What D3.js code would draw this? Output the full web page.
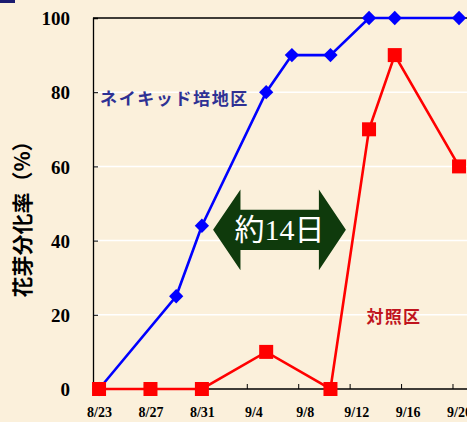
<!DOCTYPE html>
<html><head><meta charset="utf-8">
<script src="https://cdn.jsdelivr.net/npm/d3@7/dist/d3.min.js"></script>
<style>
html,body{margin:0;padding:0;background:#FBF0DB;}
svg{display:block;}
</style></head>
<body>
<svg id="chart" width="467" height="422"></svg>
<script>
// ---- data ----
const blueDates = ["2000-08-23","2000-08-29","2000-08-31","2000-09-05","2000-09-07","2000-09-10","2000-09-13","2000-09-15","2000-09-20"];
const blueValues = [0, 25, 44, 80, 90, 90, 100, 100, 100];
const redDates = ["2000-08-23","2000-08-27","2000-08-31","2000-09-05","2000-09-10","2000-09-13","2000-09-15","2000-09-20"];
const redValues = [0, 0, 0, 10, 0, 70, 90, 60];
const xTickLabels = ["8/23","8/27","8/31","9/4","9/8","9/12","9/16","9/20"];
const yTicks = [0, 20, 40, 60, 80, 100];
const blueName = "ネイキッド培地区";
const redName = "対照区";
const yTitle = "花芽分化率（%）";
const arrowText = "約14日";

(function(){
const parse = d3.timeParse("%Y-%m-%d");
const DAY = 864e5;
const svg = d3.select("#chart");
const W = 467, H = 422;

svg.append("rect").attr("width", W).attr("height", H).attr("fill", "#FBF0DB");
svg.append("rect").attr("x",0).attr("y",0).attr("width",15).attr("height",3).attr("fill","#1b1b70");

const start = parse("2000-08-23");
const x = d3.scaleTime()
  .domain([new Date(+start - 0.47*DAY), new Date(+start + 29*DAY)])
  .range([93, 93 + 29.47*12.857]);
const y = d3.scaleLinear().domain([0, 100]).range([389, 18]);

const pLeft = 93, pRight = W + 10, pTop = 18, pBottom = 389;

// gridlines
svg.append("g").selectAll("line").data(yTicks.filter(v => v > 0 && v < 100)).join("line")
  .attr("x1", pLeft).attr("x2", pRight).attr("y1", d => y(d)).attr("y2", d => y(d))
  .attr("stroke", "#ffffff").attr("stroke-width", 1.5);

// top border
svg.append("line").attr("x1", pLeft).attr("x2", pRight).attr("y1", pTop).attr("y2", pTop)
  .attr("stroke", "#000").attr("stroke-width", 1.3);

// y axis
const yAxis = d3.axisLeft(y).tickValues(yTicks).tickSize(-5).tickPadding(23).tickFormat(d3.format("d"));
const gy = svg.append("g").attr("transform", `translate(${pLeft},0)`).call(yAxis);
gy.select(".domain").attr("stroke", "#000").attr("stroke-width", 1.3);
gy.selectAll(".tick line").attr("stroke", "#000");
gy.selectAll("text").attr("font-family", "Liberation Serif, Times New Roman, serif")
  .attr("font-weight", "bold").attr("font-size", 19).attr("fill", "#000").attr("dy", "0.35em");

// x axis: labels at dates, ticks half a day earlier
const labelDates = xTickLabels.map((t, i) => new Date(+start + i*4*DAY));
const xAxis = d3.axisBottom(x).tickValues(labelDates).tickSize(0).tickPadding(18)
  .tickFormat((d, i) => xTickLabels[i]);
const gx = svg.append("g").attr("transform", `translate(0,${pBottom})`).call(xAxis);
gx.select(".domain").remove();
gx.selectAll("text").attr("font-family", "Liberation Serif, Times New Roman, serif")
  .attr("font-weight", "bold").attr("font-size", 14).attr("fill", "#000");
svg.append("line").attr("x1", pLeft).attr("x2", pRight).attr("y1", pBottom).attr("y2", pBottom)
  .attr("stroke", "#000").attr("stroke-width", 1.3);
svg.append("g").selectAll("line").data(labelDates.slice(1)).join("line")
  .attr("x1", d => x(new Date(+d - 0.47*DAY))).attr("x2", d => x(new Date(+d - 0.47*DAY)))
  .attr("y1", pBottom).attr("y2", pBottom - 5).attr("stroke", "#000").attr("stroke-width", 1);

// y title
svg.append("text").attr("transform", "translate(21,214) rotate(-90)")
  .attr("text-anchor", "middle").attr("dominant-baseline", "central")
  .attr("font-family", "Noto Sans CJK JP").attr("font-weight", "bold").attr("font-size", 21)
  .attr("fill", "#000").text(yTitle);

const line = d3.line().x(d => x(d[0])).y(d => y(d[1]));
const blue = blueDates.map((d, i) => [parse(d), blueValues[i]]);
const red = redDates.map((d, i) => [parse(d), redValues[i]]);

// blue series
svg.append("path").datum(blue).attr("d", line).attr("fill", "none")
  .attr("stroke", "#0000FF").attr("stroke-width", 2.6);
svg.append("g").selectAll("path").data(blue).join("path")
  .attr("d", d3.symbol(d3.symbolDiamond2, 130))
  .attr("transform", d => `translate(${x(d[0])},${y(d[1])})`).attr("fill", "#0000FF");

// red series
svg.append("path").datum(red).attr("d", line).attr("fill", "none")
  .attr("stroke", "#FF0000").attr("stroke-width", 2.6);
svg.append("g").selectAll("rect").data(red).join("rect")
  .attr("x", d => x(d[0]) - 7).attr("y", d => y(d[1]) - 7)
  .attr("width", 14).attr("height", 14).attr("fill", "#FF0000");

// series labels
svg.append("text").attr("x", x(new Date(+start + 0.08*DAY))).attr("y", y(78.7))
  .attr("dominant-baseline", "central")
  .attr("font-family", "Noto Sans CJK JP").attr("font-weight", "bold").attr("font-size", 17)
  .attr("letter-spacing", 1.6).attr("fill", "#2E3194").text(blueName);
svg.append("text").attr("x", x(new Date(+start + 20.8*DAY))).attr("y", y(19.7))
  .attr("dominant-baseline", "central")
  .attr("font-family", "Noto Sans CJK JP").attr("font-weight", "bold").attr("font-size", 17)
  .attr("letter-spacing", 1.3).attr("fill", "#C0141E").text(redName);

// double arrow annotation (in data space)
const aL = 8.87, aR = 19.2, hL = 11.0, hR = 17.1, cy = 42.9, headH = 10.9, shaftH = 5.4;
const X = d => x(new Date(+start + d*DAY));
const pts = [
  [X(aL), y(cy)], [X(hL), y(cy + headH)], [X(hL), y(cy + shaftH)],
  [X(hR), y(cy + shaftH)], [X(hR), y(cy + headH)], [X(aR), y(cy)],
  [X(hR), y(cy - headH)], [X(hR), y(cy - shaftH)], [X(hL), y(cy - shaftH)],
  [X(hL), y(cy - headH)]
];
svg.append("path").attr("d", "M" + pts.map(p => p.join(",")).join("L") + "Z").attr("fill", "#0F3A0C");
svg.append("text").attr("x", (X(aL) + X(aR)) / 2).attr("y", y(cy))
  .attr("text-anchor", "middle").attr("dominant-baseline", "central")
  .attr("font-family", "Liberation Serif, Noto Sans CJK JP").attr("font-size", 30)
  .attr("fill", "#ffffff").text(arrowText);
})();
</script>
</body></html>
